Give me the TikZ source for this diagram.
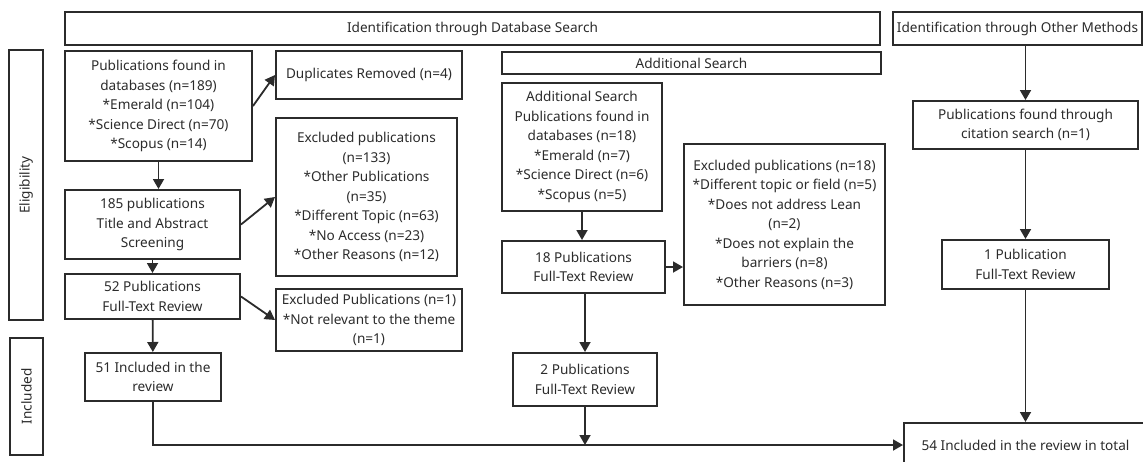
\documentclass[tikz,border=0pt]{standalone}
\usepackage{fontspec}
\setmainfont{Noto Sans}
\usetikzlibrary{arrows.meta}
\definecolor{ink}{HTML}{2B2B2B}
\begin{document}
\begin{tikzpicture}[
        x=1pt, y=-1pt,
        block/.style={rectangle, draw=ink, line width=2pt, align=center, inner sep=1pt,
            text=ink, font=\fontsize{13.6}{19.5}\selectfont},
        flow/.style={draw=ink, line width=1.8pt},
        >={Triangle[length=10pt,width=11pt]},
        ]
        \useasboundingbox (0,0) rectangle (1143,461);

        % headers
        \node (dbhead) at (472.5,28.5) [block, minimum width=815, minimum height=33] {Identification through Database Search};
        \node (otherhead) at (1017.5,28.5) [block, minimum width=249, minimum height=33] {Identification through Other Methods};
        \node (addhead) at (691.5,63) [block, minimum width=379, minimum height=22] {Additional Search};
        \node (elig) at (26,185) [block, rotate=90, minimum width=270, minimum height=34] {Eligibility};
        \node (incl) at (26.5,396.5) [block, rotate=90, minimum width=117, minimum height=33] {Included};

        % database search
        \node (found) at (158.5,106) [block, minimum width=187, minimum height=110] {Publications found in\\databases (n=189)\\*Emerald (n=104)\\*Science Direct (n=70)\\*Scopus (n=14)};
        \node (dup) at (369,75) [block, minimum width=186, minimum height=48] {Duplicates Removed (n=4)};
        \node (screen) at (152.5,224.5) [block, minimum width=175, minimum height=69] {185 publications\\Title and Abstract\\Screening};
        \node (excl133) at (366.5,197) [block, minimum width=181, minimum height=158] {Excluded publications\\(n=133)\\*Other Publications\\(n=35)\\*Different Topic (n=63)\\*No Access (n=23)\\*Other Reasons (n=12)};
        \node (full52) at (152.5,296.5) [block, minimum width=175, minimum height=45] {52 Publications\\Full-Text Review};
        \node (excl1) at (369,320) [block, minimum width=186, minimum height=62] {Excluded Publications (n=1)\\*Not relevant to the theme\\(n=1)};
        \node (incl51) at (153,377) [block, minimum width=136, minimum height=48] {51 Included in the\\review};

        % additional search
        \node (addfound) at (582,147) [block, minimum width=160, minimum height=128] {Additional Search\\Publications found in\\databases (n=18)\\*Emerald (n=7)\\*Science Direct (n=6)\\*Scopus (n=5)};
        \node (full18) at (583.5,267) [block, minimum width=163, minimum height=52] {18 Publications\\Full-Text Review};
        \node (excl18) at (784.5,224.5) [block, minimum width=201, minimum height=161] {Excluded publications (n=18)\\*Different topic or field (n=5)\\*Does not address Lean\\(n=2)\\*Does not explain the\\barriers (n=8)\\*Other Reasons (n=3)};
        \node (full2) at (585,379.5) [block, minimum width=144, minimum height=53] {2 Publications\\Full-Text Review};

        % other methods
        \node (citation) at (1025.5,125) [block, minimum width=225, minimum height=48] {Publications found through\\citation search (n=1)};
        \node (onepub) at (1025.5,264.5) [block, minimum width=167, minimum height=49] {1 Publication\\Full-Text Review};
        \node (final) at (1025.5,445) [block, minimum width=243, minimum height=44] {54 Included in the review in total};

        \draw[flow, ->] (found.east) -- (dup.west);
        \draw[flow, ->] (found.south) -- (found.south |- screen.north);
        \draw[flow, ->] (screen.east) -- (excl133.west);
        \draw[flow, ->] (screen) -- (full52);
        \draw[flow, ->] (full52.east) -- (excl1.west);
        \draw[flow, ->] (full52) -- (incl51);
        \draw[flow, ->] (incl51.south) |- (final.west);

        \draw[flow, ->] (addfound.south) -- (addfound.south |- full18.north);
        \draw[flow, ->] (full18.east) -- (full18.east -| excl18.west);
        \draw[flow, ->] (full18.south -| full2.north) -- (full2.north);
        \draw[flow, ->] (full2.south) -- (full2.south |- final.west);

        \draw[flow, ->] (citation.north |- otherhead.south) -- (citation.north);
        \draw[flow, ->] (citation) -- (onepub);
        \draw[flow, ->] (onepub) -- (final);
    \end{tikzpicture}
\end{document}
